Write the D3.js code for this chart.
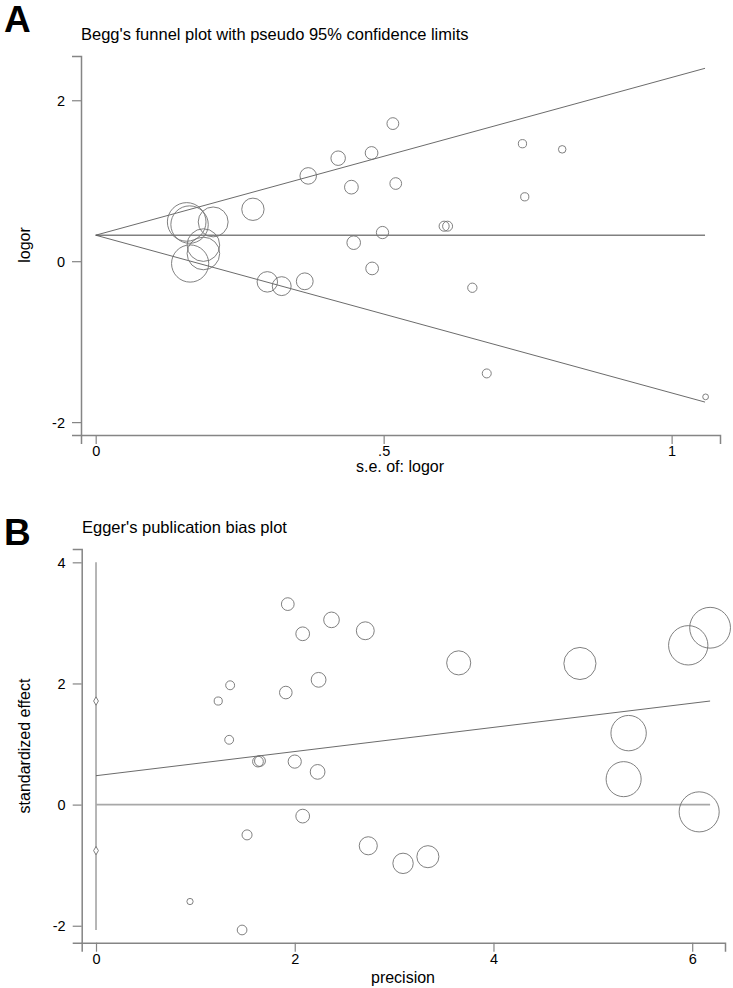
<!DOCTYPE html>
<html>
<head>
<meta charset="utf-8">
<script src="https://cdn.jsdelivr.net/npm/d3@7"></script>
<style>
  html, body { margin: 0; padding: 0; background: #fff; }
  svg { display: block; font-family: "Liberation Sans", Arial, sans-serif; }
</style>
</head>
<body>
<svg id="chart" width="733" height="988"></svg>
<script>
// ---------- Panel A: Begg's funnel plot ----------
const beggSe = [0.158, 0.163, 0.204, 0.187, 0.187, 0.164, 0.273, 0.298, 0.323, 0.363,
                0.369, 0.421, 0.444, 0.448, 0.479, 0.480, 0.498, 0.516, 0.521, 0.605,
                0.611, 0.654, 0.679, 0.741, 0.745, 0.810, 1.059];
const beggLogor = [0.488, 0.455, 0.488, 0.200, 0.096, -0.029, 0.645, -0.257, -0.310, -0.250,
                   1.060, 1.280, 0.920, 0.230, 1.345, -0.090, 0.356, 1.710, 0.965, 0.435,
                   0.435, -0.330, -1.395, 1.460, 0.800, 1.390, -1.686];
const funnelSe = [0, 1.058];
const funnelUpper = [0.323, 2.397];
const funnelLower = [0.323, -1.751];
const pooledLogor = [0.323, 0.323];
const beggXTicks = [0, 0.5, 1];
const beggXTickLabels = ["0", ".5", "1"];
const beggYTicks = [-2, 0, 2];
const beggYTickLabels = ["-2", "0", "2"];
const beggXDomain = [-0.0255, 1.084];
const beggYDomain = [-2.16, 2.55];

// ---------- Panel B: Egger's publication bias plot ----------
const eggerPrecision = [1.93, 2.37, 2.08, 2.71, 2.24, 1.91, 1.35, 1.23, 1.34, 1.63,
                        1.65, 2.00, 2.23, 2.08, 1.52, 2.74, 0.946, 1.47, 3.09, 3.34,
                        5.31, 6.07, 5.36, 3.65, 4.87, 5.96, 6.18];
const eggerStdEffect = [3.31, 3.05, 2.82, 2.87, 2.06, 1.85, 1.97, 1.71, 1.07, 0.71,
                        0.72, 0.71, 0.54, -0.19, -0.50, -0.68, -1.60, -2.07, -0.97, -0.86,
                        0.42, -0.12, 1.18, 2.34, 2.33, 2.63, 2.92];
const regPrecision = [0, 6.18];
const regEffect = [0.477, 1.71];
const zeroLineEffect = [0, 0];
const interceptLine = [4, -2.07];
const interceptCI = [1.71, -0.76];
const eggerXTicks = [0, 2, 4, 6];
const eggerXTickLabels = ["0", "2", "4", "6"];
const eggerYTicks = [-2, 0, 2, 4];
const eggerYTickLabels = ["-2", "0", "2", "4"];
const eggerXDomain = [-0.144, 6.33];
const eggerYDomain = [-2.28, 4.22];

const svg = d3.select("#chart");
const axisColor = "#858585";
const circleColor = "#727272";

function styleAxis(g) {
  g.selectAll("path.domain").attr("stroke", axisColor).attr("stroke-width", 1.5);
  g.selectAll(".tick line").attr("stroke", axisColor).attr("stroke-width", 1.2);
  g.selectAll(".tick text").attr("fill", "#000").attr("font-size", 14.5)
    .attr("font-family", "Liberation Sans, Arial, sans-serif");
}

// ===== Panel A =====
const xA = d3.scaleLinear().domain(beggXDomain).range([81, 720]);
const yA = d3.scaleLinear().domain(beggYDomain).range([435, 56]);
const rA = d3.scaleLinear().domain([0, 1]).range([0, 3.05]); // radius from precision (1/se)

svg.append("text").attr("x", 4).attr("y", 32).attr("font-size", 37).attr("font-weight", "bold")
  .text("A");
svg.append("text").attr("x", 81).attr("y", 40).attr("font-size", 16.5)
  .text("Begg's funnel plot with pseudo 95% confidence limits");

const gAx = svg.append("g").attr("transform", "translate(0,435)")
  .call(d3.axisBottom(xA).tickValues(beggXTicks).tickFormat((d, i) => beggXTickLabels[i])
        .tickSizeOuter(0).tickSize(9).tickPadding(2));
styleAxis(gAx);
const gAy = svg.append("g").attr("transform", "translate(81,0)")
  .call(d3.axisLeft(yA).tickValues(beggYTicks).tickFormat((d, i) => beggYTickLabels[i])
        .tickSizeOuter(0).tickSize(9).tickPadding(7));
styleAxis(gAy);
gAy.selectAll(".tick text").attr("dy", "0.36em");

svg.append("text").attr("x", 400).attr("y", 472).attr("text-anchor", "middle").attr("font-size", 16)
  .text("s.e. of: logor");
svg.append("text").attr("transform", "translate(30,245) rotate(-90)").attr("text-anchor", "middle")
  .attr("font-size", 16).text("logor");

const lineA = d3.line().x(d => xA(d[0])).y(d => yA(d[1]));
svg.append("path").attr("d", lineA(d3.zip(funnelSe, pooledLogor)))
  .attr("fill", "none").attr("stroke", "#808080").attr("stroke-width", 1.6);
svg.append("path").attr("d", lineA(d3.zip(funnelSe, funnelUpper)))
  .attr("fill", "none").attr("stroke", "#5a5a5a").attr("stroke-width", 0.9);
svg.append("path").attr("d", lineA(d3.zip(funnelSe, funnelLower)))
  .attr("fill", "none").attr("stroke", "#5a5a5a").attr("stroke-width", 0.9);

svg.append("g").selectAll("circle").data(d3.zip(beggSe, beggLogor)).join("circle")
  .attr("cx", d => xA(d[0])).attr("cy", d => yA(d[1])).attr("r", d => rA(1 / d[0]))
  .attr("fill", "none").attr("stroke", circleColor).attr("stroke-width", 0.9);

// ===== Panel B =====
const xB = d3.scaleLinear().domain(eggerXDomain).range([81.7, 725]);
const yB = d3.scaleLinear().domain(eggerYDomain).range([942.7, 549]);
const rB = d3.scaleLinear().domain([0, 1]).range([0, 3.3]);

svg.append("text").attr("x", 4).attr("y", 545).attr("font-size", 37).attr("font-weight", "bold")
  .text("B");
svg.append("text").attr("x", 82).attr("y", 533).attr("font-size", 16.5)
  .text("Egger's publication bias plot");

const gBx = svg.append("g").attr("transform", "translate(0,942.7)")
  .call(d3.axisBottom(xB).tickValues(eggerXTicks).tickFormat((d, i) => eggerXTickLabels[i])
        .tickSizeOuter(0).tickSize(9).tickPadding(2));
styleAxis(gBx);
const gBy = svg.append("g").attr("transform", "translate(81.7,0)")
  .call(d3.axisLeft(yB).tickValues(eggerYTicks).tickFormat((d, i) => eggerYTickLabels[i])
        .tickSizeOuter(0).tickSize(9).tickPadding(7));
styleAxis(gBy);
gBy.selectAll(".tick text").attr("dy", "0.36em");

svg.append("text").attr("x", 403).attr("y", 983).attr("text-anchor", "middle").attr("font-size", 16)
  .text("precision");
svg.append("text").attr("transform", "translate(30,746) rotate(-90)").attr("text-anchor", "middle")
  .attr("font-size", 16).text("standardized effect");

const lineB = d3.line().x(d => xB(d[0])).y(d => yB(d[1]));
// vertical intercept line at precision 0
svg.append("path").attr("d", lineB([[0, interceptLine[0]], [0, interceptLine[1]]]))
  .attr("fill", "none").attr("stroke", "#7a7a7a").attr("stroke-width", 1.1);
svg.append("path").attr("d", lineB(d3.zip(regPrecision, zeroLineEffect)))
  .attr("fill", "none").attr("stroke", "#a8a8a8").attr("stroke-width", 1.8);
svg.append("path").attr("d", lineB(d3.zip(regPrecision, regEffect)))
  .attr("fill", "none").attr("stroke", "#5a5a5a").attr("stroke-width", 0.9);

svg.append("g").selectAll("path").data(interceptCI).join("path")
  .attr("d", d3.symbol(d3.symbolDiamond, 20))
  .attr("transform", d => `translate(${xB(0)},${yB(d)})`)
  .attr("fill", "#fff").attr("stroke", circleColor).attr("stroke-width", 0.9);

svg.append("g").selectAll("circle").data(d3.zip(eggerPrecision, eggerStdEffect)).join("circle")
  .attr("cx", d => xB(d[0])).attr("cy", d => yB(d[1])).attr("r", d => rB(d[0]))
  .attr("fill", "none").attr("stroke", circleColor).attr("stroke-width", 0.9);
</script>
</body>
</html>
